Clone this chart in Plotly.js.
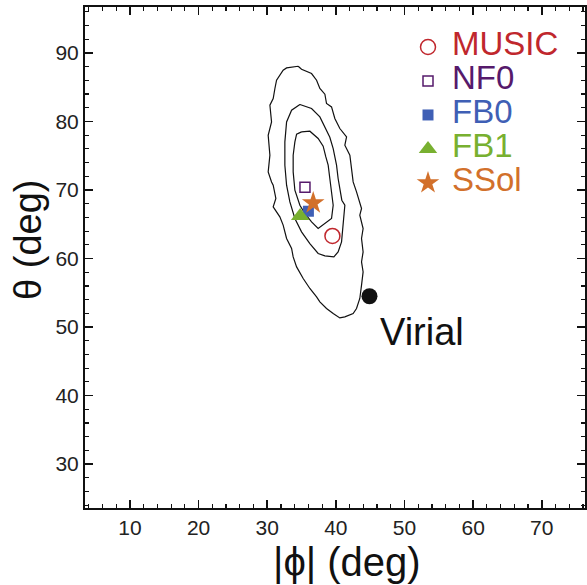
<!DOCTYPE html>
<html>
<head>
<meta charset="utf-8">
<script src="https://cdn.plot.ly/plotly-3.0.1.min.js"></script>
<style>html,body{margin:0;padding:0;background:#fff;}#chart{width:587px;height:585px;}</style>
</head>
<body>
<div id="chart"></div>
<script>
// ---- Data ----
const modelNames = ['MUSIC', 'NF0', 'FB0', 'FB1', 'SSol'];
const modelPhi   = [39.5, 35.5, 36.0, 34.8, 36.7];
const modelTheta = [63.3, 70.4, 66.9, 66.2, 68.1];

const virialName  = 'Virial';
const virialPhi   = [44.9];
const virialTheta = [54.5];

const xTitle = '|\u03d5| (deg)';
const yTitle = '\u03b8 (deg)';

// confidence contours (outer, middle, inner)
const outerPhi = [34.51,35.00,36.46,37.19,37.67,38.40,38.64,39.37,39.85,40.58,41.56,41.31,42.04,42.28,42.52,43.01,43.74,43.49,43.97,43.74,43.97,43.74,43.97,43.74,43.49,43.01,42.52,41.31,40.58,39.61,38.64,37.67,37.19,36.21,35.24,34.28,33.78,33.55,32.82,32.32,31.84,30.87,31.26,30.87,30.63,30.14,30.39,30.14,30.63,30.39,30.87,31.12,31.36,32.32,32.82,34.51];
const outerTheta = [88.06,87.62,86.99,86.02,84.81,83.98,82.62,82.12,80.43,78.97,77.75,76.54,75.08,73.14,71.18,69.72,67.30,66.32,64.38,62.92,60.97,59.51,58.05,56.11,54.17,52.71,51.98,51.49,51.34,51.98,52.71,53.68,54.41,55.63,57.09,58.78,60.24,61.47,62.92,64.87,66.08,67.53,68.76,70.70,71.18,72.64,75.08,77.99,79.93,82.37,83.35,84.81,86.02,87.48,87.81,88.06];

const middlePhi = [34.76,36.46,37.67,38.40,39.12,39.61,40.10,40.33,40.58,40.87,41.31,41.06,40.83,40.33,39.71,38.40,37.42,36.21,35.00,34.03,33.30,32.82,32.57,32.57,32.82,33.55,34.76];
const middleTheta = [82.47,81.89,80.66,79.20,77.70,76.05,73.62,71.68,69.97,68.51,67.78,65.35,62.43,60.97,60.24,60.39,60.74,62.19,63.89,65.84,68.26,70.70,73.62,77.02,79.93,81.64,82.47];

const innerPhi = [35.00,36.21,37.42,38.15,38.54,38.88,39.12,39.37,39.61,39.37,38.40,37.42,36.46,35.48,34.76,34.03,33.78,33.78,34.03,34.28,35.00];
const innerTheta = [78.48,78.58,77.51,76.39,74.83,73.62,71.68,69.97,67.78,65.84,65.11,64.38,65.35,66.57,67.78,69.97,72.64,75.08,77.02,78.14,78.48];

// ---- Styles ----
const modelColors  = ['#c0272d', '#561a6b', '#3f5fb5', '#78b030', '#d2702b'];
const modelSymbols = ['circle-open', 'square-open', 'square', 'triangle-up', 'star'];
const modelSizes   = [15, 10, 11, 16, 17];
const modelLineW   = [1.5, 1.5, 0, 0, 0];

const FONT = 'Liberation Sans, Arial, Helvetica, sans-serif';
const INK = '#111111';
const LEGEND_TEXT_X = 0.48;   // text column of the custom legend (x2 units)

const contourLine = {color: '#111111', width: 1.2};
const markerStyle = {symbol: modelSymbols, color: modelColors, size: modelSizes, opacity: 1,
                     line: {color: modelColors, width: modelLineW}};
const traces = [
  {x: outerPhi, y: outerTheta, mode: 'lines', line: contourLine, hoverinfo: 'skip', showlegend: false},
  {x: middlePhi, y: middleTheta, mode: 'lines', line: contourLine, hoverinfo: 'skip', showlegend: false},
  {x: innerPhi, y: innerTheta, mode: 'lines', line: contourLine, hoverinfo: 'skip', showlegend: false},
  {x: modelPhi, y: modelTheta, mode: 'markers', text: modelNames, showlegend: false, marker: markerStyle},
  {x: virialPhi, y: virialTheta, mode: 'markers', name: virialName, showlegend: false,
   marker: {symbol: 'circle', color: '#111111', size: 16, opacity: 1}},
  // custom legend drawn on a hidden overlay axis (one row per model)
  {x: modelNames.map(() => 0), y: modelNames.map((n, i) => i), xaxis: 'x2', yaxis: 'y2',
   mode: 'markers', cliponaxis: false, hoverinfo: 'skip', showlegend: false, marker: markerStyle},
  {x: modelNames.map(() => LEGEND_TEXT_X), y: modelNames.map((n, i) => i), xaxis: 'x2', yaxis: 'y2',
   mode: 'text', text: modelNames, textposition: 'middle right', cliponaxis: false,
   hoverinfo: 'skip', showlegend: false,
   textfont: {family: FONT, size: 33, color: modelColors}}
];

const axisCommon = {
  showgrid: false, zeroline: false, showline: true, linecolor: INK, linewidth: 2,
  mirror: 'ticks', ticks: 'inside', ticklen: 8, tickwidth: 1.5, tickcolor: INK,
  dtick: 10, tick0: 0,
  minor: {dtick: 2, ticks: 'inside', ticklen: 4, tickwidth: 1.2, tickcolor: INK, showgrid: false},
  tickfont: {family: FONT, size: 21, color: '#222222'}
};

const layout = {
  width: 587, height: 585,
  margin: {l: 85, r: 2, t: 7, b: 77},
  paper_bgcolor: '#ffffff', plot_bgcolor: 'rgba(0,0,0,0)',
  showlegend: false,
  font: {family: FONT, color: INK},
  xaxis: Object.assign({}, axisCommon, {range: [3.45, 76.3]}),
  yaxis: Object.assign({}, axisCommon, {range: [23.6, 96.7]}),
  xaxis2: {domain: [0.586, 0.786], range: [-1, 1], visible: false, anchor: 'y2', fixedrange: true},
  yaxis2: {domain: [0.615, 0.954], range: [4.5, -0.5], visible: false, anchor: 'x2', fixedrange: true},
  annotations: [
    {x: virialPhi[0], y: virialTheta[0], xref: 'x', yref: 'y', text: virialName, showarrow: false,
     xanchor: 'left', yanchor: 'middle', xshift: 9, yshift: -36,
     font: {family: FONT, size: 38, color: INK}},
    // axis titles
    {x: 0.524, y: -0.108, xref: 'paper', yref: 'paper', text: xTitle, showarrow: false,
     xanchor: 'center', yanchor: 'middle', font: {family: FONT, size: 40, color: INK}},
    {x: -0.114, y: 0.535, xref: 'paper', yref: 'paper', text: yTitle, showarrow: false, textangle: -90,
     xanchor: 'center', yanchor: 'middle', font: {family: FONT, size: 38, color: INK}}
  ]
};

Plotly.newPlot('chart', traces, layout, {staticPlot: true, displayModeBar: false}).then(function () {
  // give each (zero-width) tick path a tiny extent hidden under the frame so it is rasterised
  document.querySelectorAll('path.xtick, path.ytick').forEach(function (p) {
    var d = p.getAttribute('d') || '';
    var m = /^M([-\d.]+),([-\d.]+)/.exec(d);
    if (!m) return;
    var isX = p.classList.contains('xtick');
    p.setAttribute('d', d + 'M' + m[1] + ',' + m[2] + (isX ? 'h0.6' : 'v0.6'));
  });
});
</script>
</body>
</html>
